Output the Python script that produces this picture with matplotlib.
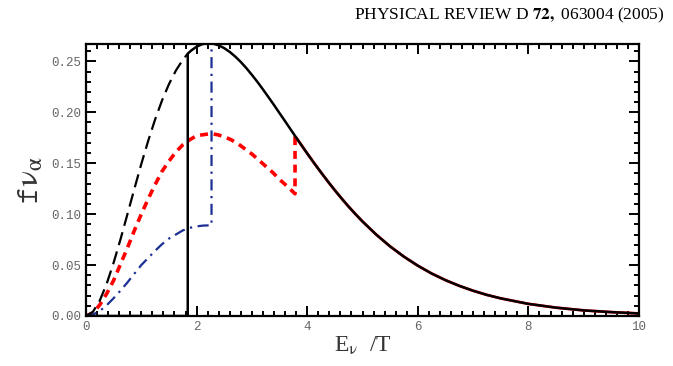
import matplotlib
matplotlib.use("Agg")
import matplotlib.pyplot as plt
from matplotlib.ticker import MultipleLocator

plt.rcParams["mathtext.fontset"] = "stix"

# normalised Fermi-Dirac curve (black solid)
x_fd = [1.84, 1.9, 2.0, 2.1, 2.2, 2.25, 2.3, 2.4, 2.5, 2.6, 2.7, 2.8, 2.9, 3.0, 3.1,
        3.2, 3.3, 3.4, 3.5, 3.6, 3.7, 3.8, 3.9, 4.0, 4.125, 4.25, 4.375, 4.5, 4.625,
        4.75, 4.875, 5.0, 5.25, 5.5, 5.75, 6.0, 6.25, 6.5, 6.75, 7.0, 7.25, 7.5, 8.0,
        8.5, 9.0, 9.5, 10.0]
y_fd = [0.2575, 0.2605, 0.2644, 0.2668, 0.2678, 0.2677, 0.2673, 0.2657, 0.2629,
        0.2592, 0.2546, 0.2493, 0.2433, 0.2367, 0.2298, 0.2224, 0.2148, 0.2071,
        0.1991, 0.1912, 0.1832, 0.1752, 0.1674, 0.1596, 0.1501, 0.1409, 0.1320,
        0.1234, 0.1152, 0.1073, 0.0999, 0.0928, 0.0798, 0.0683, 0.0582, 0.0494,
        0.0417, 0.0352, 0.0296, 0.0248, 0.0207, 0.0173, 0.0119, 0.0082, 0.0055,
        0.0038, 0.0025]

# black dashed: same curve below the cut
x_low = [0.0, 0.125, 0.25, 0.375, 0.5, 0.625, 0.75, 0.875, 1.0, 1.125, 1.25, 1.375,
         1.5, 1.625, 1.75, 1.84]
y_low = [0.0, 0.0041, 0.0152, 0.0318, 0.0524, 0.0755, 0.1001, 0.1249, 0.1492,
         0.1720, 0.1930, 0.2116, 0.2276, 0.2409, 0.2515, 0.2575]

# red short dashes (jump back onto the black curve at E/T = 3.78)
x_red = [0.0, 0.125, 0.25, 0.375, 0.5, 0.625, 0.75, 0.875, 1.0, 1.125, 1.25, 1.375,
         1.5, 1.625, 1.75, 1.875, 2.0, 2.125, 2.25, 2.375, 2.5, 2.625, 2.75, 2.875,
         3.0, 3.125, 3.25, 3.375, 3.5, 3.625, 3.78, 3.78]
y_red = [0.0, 0.003, 0.011, 0.022, 0.035, 0.051, 0.067, 0.084, 0.100, 0.115, 0.129,
         0.142, 0.152, 0.161, 0.168, 0.173, 0.177, 0.178, 0.179, 0.178, 0.176, 0.173,
         0.169, 0.164, 0.159, 0.153, 0.147, 0.141, 0.134, 0.128, 0.120, 0.176]

# blue dash-dot (jump at E/T = 2.27)
x_blue = [0.0, 0.125, 0.25, 0.375, 0.5, 0.625, 0.75, 0.875, 1.0, 1.125, 1.25, 1.375,
          1.5, 1.625, 1.75, 1.875, 2.0, 2.125, 2.27, 2.27]
y_blue = [0.0, 0.0014, 0.005, 0.0106, 0.0175, 0.025, 0.033, 0.0416, 0.050, 0.057,
          0.064, 0.0705, 0.076, 0.080, 0.084, 0.0865, 0.088, 0.0888, 0.089, 0.2675]

fig = plt.figure(figsize=(6.73, 3.66), dpi=100)
ax = fig.add_axes([86 / 673, 1 - 316 / 366, 553 / 673, 272 / 366])

x_tail = [v for v in x_fd if v >= 3.8]
y_tail = [y for v, y in zip(x_fd, y_fd) if v >= 3.8]
ax.plot([3.78] + x_tail, [0.176] + y_tail, color="red", lw=2.0)
ax.plot(x_red, y_red, color="red", lw=2.6, ls=(0, (2.2, 1.6)))
ax.plot(x_blue, y_blue, color="#1c2f94", lw=1.6, ls=(0, (5, 2.5, 1, 2.5)))
ax.plot(x_low, y_low, color="black", lw=1.6, ls=(0, (6, 3)))
ax.plot([0, 1.84, 1.84] + x_fd, [0, 0, 0] + y_fd, color="black", lw=1.8)

ax.set_xlim(0, 10)
ax.set_ylim(0, 0.267)
ax.xaxis.set_major_locator(MultipleLocator(2))
ax.xaxis.set_minor_locator(MultipleLocator(0.2))
ax.yaxis.set_major_locator(MultipleLocator(0.05))
ax.yaxis.set_minor_locator(MultipleLocator(0.01))
ax.yaxis.set_major_formatter(plt.FuncFormatter(lambda v, p: f"{v:.2f}"))
ax.tick_params(which="both", direction="in", top=True, right=True, width=1.4,
               labelsize=9, labelcolor="#666666")
ax.tick_params(which="major", length=7)
ax.tick_params(which="minor", length=3.5)
for lab in ax.get_xticklabels() + ax.get_yticklabels():
    lab.set_family("Liberation Mono")
for s in ax.spines.values():
    s.set_linewidth(1.6)

ax.set_xlabel(r"E$_{\mathrm{\nu}}$  /T", fontsize=17, family="Liberation Serif",
              color="#333333", labelpad=1)
ax.set_ylabel(r"$\mathtt{f}\mathrm{\nu}_{\mathrm{\alpha}}$", fontsize=24,
              color="#333333", labelpad=4)

fig.text(665 / 673, 1 - 15 / 366, r"PHYSICAL REVIEW D $\mathbf{72,}$ 063004 (2005)",
         ha="right", va="center", fontsize=12.5, family="Liberation Serif")

fig.savefig("out.png", dpi=100)
